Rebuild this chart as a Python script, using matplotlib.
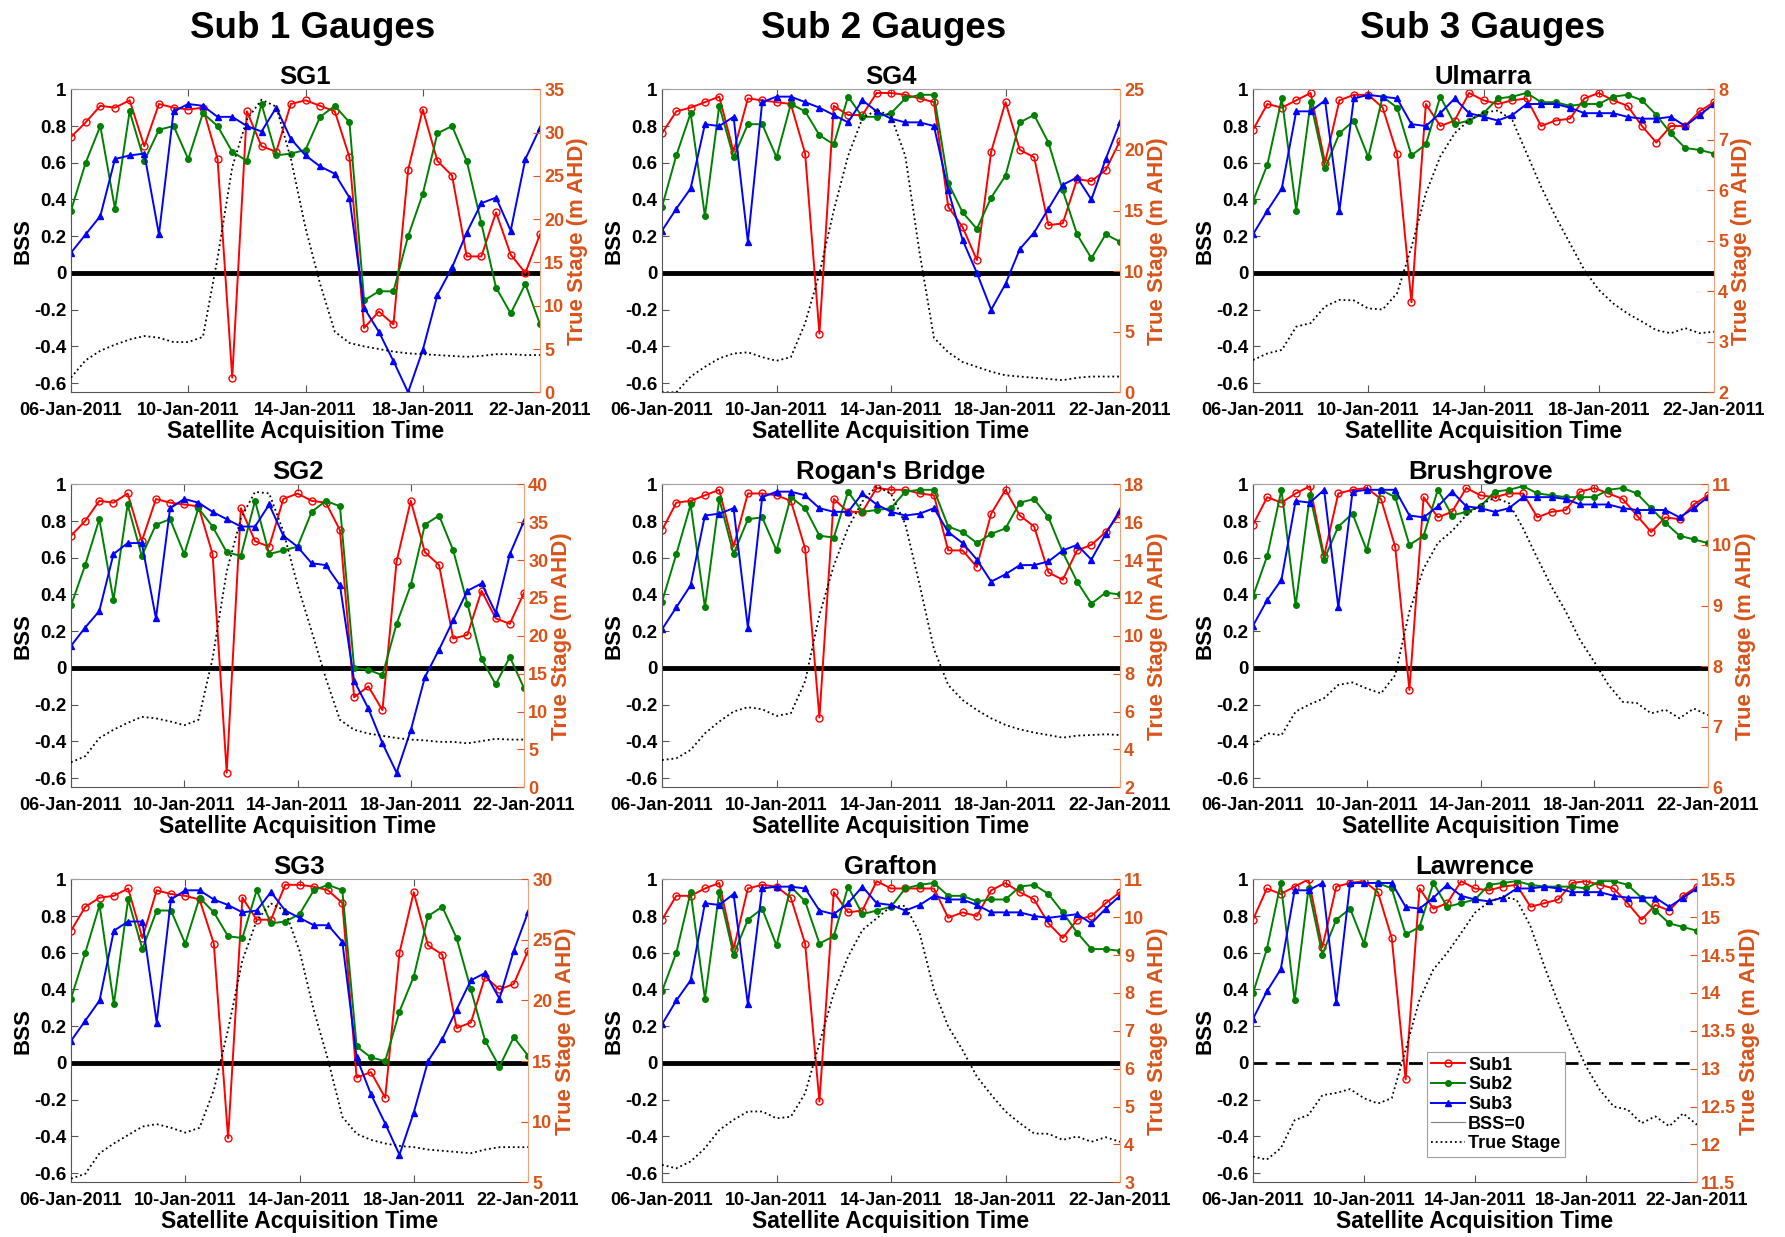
import numpy as np
import matplotlib
matplotlib.use('Agg')
import matplotlib.pyplot as plt
import matplotlib.dates as mdates
from matplotlib.lines import Line2D
from matplotlib.ticker import FuncFormatter

plt.rcParams['font.family'] = ['Liberation Sans', 'DejaVu Sans']
plt.rcParams['font.weight'] = 'bold'
plt.rcParams['axes.labelweight'] = 'bold'
plt.rcParams['axes.titleweight'] = 'bold'

# satellite acquisitions every 12 h, 06-Jan-2011 .. 22-Jan-2011
times = np.datetime64('2011-01-06T00:00') + np.arange(33) * np.timedelta64(12, 'h')

# ---- Sub 1 gauges ----
sg1_sub1 = [0.74, 0.82, 0.91, 0.90, 0.94, 0.69, 0.92, 0.90, 0.89, 0.90, 0.62, -0.57, 0.88, 0.69, 0.66, 0.92, 0.94,
            0.91, 0.88, 0.63, -0.30, -0.21, -0.28, 0.56, 0.89, 0.61, 0.53, 0.09, 0.09, 0.33, 0.10, 0.00, 0.21]
sg1_sub2 = [0.34, 0.60, 0.80, 0.35, 0.88, 0.61, 0.78, 0.80, 0.62, 0.87, 0.80, 0.66, 0.61, 0.92, 0.64, 0.65, 0.67,
            0.85, 0.91, 0.82, -0.15, -0.10, -0.10, 0.20, 0.43, 0.76, 0.80, 0.61, 0.27, -0.08, -0.22, -0.06, -0.28]
sg1_sub3 = [0.11, 0.21, 0.31, 0.62, 0.64, 0.65, 0.21, 0.88, 0.92, 0.91, 0.85, 0.85, 0.80, 0.77, 0.90, 0.73, 0.64,
            0.58, 0.54, 0.41, -0.19, -0.32, -0.48, -0.65, -0.42, -0.12, 0.03, 0.22, 0.38, 0.41, 0.23, 0.62, 0.79]
sg1_stage = [1.7, 3.7, 4.8, 5.5, 6.1, 6.5, 6.3, 5.8, 5.8, 6.4, 15.5, 26.0, 31.5, 33.8, 33.0, 27.0, 19.0,
             12.5, 7.0, 5.7, 5.3, 5.0, 4.7, 4.5, 4.4, 4.3, 4.2, 4.1, 4.2, 4.4, 4.4, 4.3, 4.3]

sg2_sub1 = [0.72, 0.80, 0.91, 0.90, 0.95, 0.69, 0.92, 0.90, 0.89, 0.88, 0.62, -0.57, 0.87, 0.69, 0.66, 0.92, 0.95,
            0.91, 0.90, 0.75, -0.16, -0.10, -0.23, 0.58, 0.91, 0.63, 0.56, 0.16, 0.18, 0.42, 0.27, 0.24, 0.41]
sg2_sub2 = [0.34, 0.56, 0.81, 0.37, 0.89, 0.61, 0.78, 0.81, 0.62, 0.87, 0.77, 0.63, 0.61, 0.91, 0.62, 0.64, 0.66,
            0.85, 0.91, 0.88, 0.00, -0.01, -0.04, 0.24, 0.45, 0.78, 0.83, 0.64, 0.35, 0.05, -0.09, 0.06, -0.11]
sg2_sub3 = [0.12, 0.22, 0.31, 0.62, 0.68, 0.68, 0.27, 0.87, 0.92, 0.90, 0.85, 0.81, 0.77, 0.77, 0.89, 0.72, 0.66,
            0.57, 0.56, 0.45, -0.07, -0.22, -0.41, -0.57, -0.34, -0.05, 0.10, 0.26, 0.42, 0.46, 0.30, 0.62, 0.80]
sg2_stage = [3.3, 4.1, 6.5, 7.6, 8.5, 9.3, 9.1, 8.7, 8.2, 8.9, 17.0, 28.5, 35.5, 39.0, 38.8, 33.8, 26.7,
             20.6, 14.4, 8.9, 7.6, 7.1, 6.8, 6.5, 6.3, 6.2, 6.0, 6.0, 5.8, 6.1, 6.4, 6.3, 6.3]

sg3_sub1 = [0.72, 0.85, 0.90, 0.91, 0.95, 0.68, 0.94, 0.92, 0.91, 0.89, 0.65, -0.41, 0.90, 0.78, 0.78, 0.97, 0.97,
            0.96, 0.94, 0.87, -0.08, -0.05, -0.19, 0.60, 0.93, 0.64, 0.59, 0.19, 0.22, 0.47, 0.40, 0.43, 0.61]
sg3_sub2 = [0.35, 0.60, 0.86, 0.32, 0.89, 0.62, 0.83, 0.83, 0.65, 0.90, 0.82, 0.69, 0.68, 0.94, 0.76, 0.77, 0.81,
            0.94, 0.97, 0.94, 0.09, 0.03, 0.01, 0.28, 0.47, 0.80, 0.85, 0.68, 0.40, 0.12, -0.02, 0.14, 0.04]
sg3_sub3 = [0.12, 0.23, 0.34, 0.72, 0.77, 0.77, 0.22, 0.89, 0.94, 0.94, 0.89, 0.86, 0.82, 0.83, 0.93, 0.83, 0.79,
            0.75, 0.75, 0.66, 0.03, -0.17, -0.33, -0.50, -0.27, 0.01, 0.13, 0.29, 0.45, 0.49, 0.35, 0.61, 0.82]
sg3_stage = [5.3, 5.7, 7.4, 8.2, 8.9, 9.6, 9.8, 9.5, 9.1, 9.5, 12.6, 17.6, 23.3, 26.6, 28.0, 27.4, 24.1,
             19.2, 15.1, 10.4, 9.0, 8.5, 8.2, 8.0, 7.9, 7.7, 7.6, 7.5, 7.4, 7.7, 7.9, 7.9, 7.9]

# ---- Sub 2 gauges ----
sg4_sub1 = [0.76, 0.88, 0.90, 0.93, 0.96, 0.66, 0.95, 0.94, 0.93, 0.92, 0.65, -0.33, 0.91, 0.86, 0.86, 0.98, 0.98,
            0.97, 0.95, 0.93, 0.36, 0.25, 0.07, 0.66, 0.93, 0.67, 0.63, 0.26, 0.27, 0.51, 0.50, 0.56, 0.72]
sg4_sub2 = [0.36, 0.64, 0.87, 0.31, 0.91, 0.63, 0.81, 0.81, 0.63, 0.92, 0.88, 0.75, 0.70, 0.96, 0.85, 0.85, 0.87,
            0.95, 0.97, 0.97, 0.49, 0.33, 0.24, 0.41, 0.53, 0.82, 0.86, 0.71, 0.45, 0.21, 0.08, 0.21, 0.17]
sg4_sub3 = [0.23, 0.35, 0.46, 0.81, 0.80, 0.85, 0.17, 0.93, 0.96, 0.96, 0.93, 0.90, 0.86, 0.82, 0.94, 0.88, 0.84,
            0.82, 0.82, 0.80, 0.45, 0.18, 0.00, -0.20, -0.06, 0.13, 0.22, 0.35, 0.48, 0.52, 0.40, 0.62, 0.82]
sg4_stage = [0.0, 0.0, 1.3, 2.1, 2.8, 3.2, 3.3, 2.9, 2.6, 2.9, 5.7, 9.8, 15.0, 19.5, 22.6, 23.3, 22.8,
             19.5, 11.5, 4.5, 3.3, 2.5, 2.1, 1.7, 1.4, 1.3, 1.2, 1.1, 1.0, 1.2, 1.3, 1.3, 1.3]

rogan_sub1 = [0.75, 0.90, 0.91, 0.94, 0.97, 0.66, 0.95, 0.95, 0.94, 0.91, 0.65, -0.27, 0.92, 0.85, 0.85, 0.98, 0.97,
              0.97, 0.95, 0.94, 0.64, 0.64, 0.55, 0.84, 0.97, 0.83, 0.77, 0.52, 0.48, 0.64, 0.67, 0.74, 0.84]
rogan_sub2 = [0.36, 0.62, 0.89, 0.33, 0.92, 0.62, 0.81, 0.82, 0.64, 0.93, 0.87, 0.72, 0.71, 0.96, 0.85, 0.86, 0.87,
              0.96, 0.97, 0.97, 0.77, 0.74, 0.68, 0.73, 0.76, 0.90, 0.92, 0.82, 0.63, 0.47, 0.35, 0.41, 0.40]
rogan_sub3 = [0.21, 0.33, 0.45, 0.83, 0.84, 0.87, 0.22, 0.93, 0.96, 0.96, 0.94, 0.87, 0.85, 0.85, 0.95, 0.89, 0.85,
              0.83, 0.84, 0.87, 0.74, 0.68, 0.59, 0.47, 0.51, 0.56, 0.56, 0.58, 0.64, 0.67, 0.59, 0.73, 0.86]
rogan_stage = [3.44, 3.53, 3.97, 4.85, 5.47, 6.00, 6.23, 6.12, 5.77, 5.91, 7.6, 11.1, 13.7, 15.7, 17.1, 17.9, 17.5,
               15.9, 12.7, 9.3, 7.4, 6.61, 6.08, 5.64, 5.29, 5.06, 4.89, 4.76, 4.62, 4.73, 4.76, 4.80, 4.76]

grafton_sub1 = [0.78, 0.91, 0.91, 0.95, 0.98, 0.62, 0.95, 0.97, 0.96, 0.90, 0.65, -0.21, 0.93, 0.82, 0.83, 0.99, 0.95,
                0.95, 0.95, 0.95, 0.79, 0.82, 0.80, 0.94, 0.98, 0.93, 0.89, 0.76, 0.68, 0.78, 0.80, 0.87, 0.93]
grafton_sub2 = [0.39, 0.60, 0.93, 0.35, 0.93, 0.59, 0.78, 0.84, 0.64, 0.96, 0.88, 0.65, 0.69, 0.96, 0.81, 0.83, 0.85,
                0.95, 0.97, 0.98, 0.91, 0.91, 0.88, 0.89, 0.89, 0.96, 0.97, 0.92, 0.82, 0.71, 0.62, 0.62, 0.61]
grafton_sub3 = [0.21, 0.34, 0.45, 0.87, 0.86, 0.92, 0.32, 0.95, 0.96, 0.96, 0.95, 0.83, 0.81, 0.87, 0.96, 0.87, 0.86,
                0.83, 0.86, 0.91, 0.89, 0.89, 0.86, 0.82, 0.82, 0.82, 0.80, 0.79, 0.80, 0.81, 0.76, 0.84, 0.91]
grafton_stage = [3.46, 3.37, 3.55, 3.90, 4.38, 4.65, 4.87, 4.87, 4.69, 4.73, 5.35, 6.67, 7.99, 8.96, 9.66, 9.97, 10.28,
                 10.30, 9.58, 8.08, 7.11, 6.49, 5.79, 5.31, 4.87, 4.56, 4.29, 4.28, 4.12, 4.21, 4.07, 4.19, 4.07]

# ---- Sub 3 gauges ----
ulmarra_sub1 = [0.78, 0.92, 0.90, 0.94, 0.98, 0.60, 0.94, 0.97, 0.97, 0.90, 0.65, -0.16, 0.92, 0.80, 0.83, 0.98, 0.94,
                0.92, 0.94, 0.95, 0.80, 0.83, 0.84, 0.95, 0.98, 0.94, 0.91, 0.80, 0.71, 0.80, 0.80, 0.88, 0.93]
ulmarra_sub2 = [0.39, 0.59, 0.95, 0.34, 0.93, 0.57, 0.76, 0.83, 0.63, 0.96, 0.90, 0.64, 0.70, 0.96, 0.81, 0.83, 0.87,
                0.95, 0.96, 0.98, 0.93, 0.93, 0.91, 0.92, 0.92, 0.96, 0.97, 0.94, 0.86, 0.76, 0.68, 0.67, 0.65]
ulmarra_sub3 = [0.21, 0.34, 0.46, 0.88, 0.88, 0.94, 0.34, 0.95, 0.97, 0.96, 0.95, 0.81, 0.80, 0.87, 0.95, 0.87, 0.85,
                0.83, 0.86, 0.92, 0.92, 0.92, 0.90, 0.87, 0.87, 0.87, 0.85, 0.84, 0.84, 0.85, 0.80, 0.86, 0.92]
ulmarra_stage = [2.64, 2.77, 2.84, 3.30, 3.37, 3.70, 3.83, 3.82, 3.66, 3.64, 3.96, 4.88, 5.94, 6.67, 7.13, 7.39, 7.54,
                 7.58, 7.39, 6.73, 6.07, 5.48, 4.95, 4.42, 4.03, 3.76, 3.56, 3.40, 3.23, 3.17, 3.27, 3.17, 3.20]

brush_sub1 = [0.78, 0.93, 0.90, 0.95, 0.99, 0.61, 0.95, 0.97, 0.98, 0.92, 0.66, -0.12, 0.93, 0.82, 0.85, 0.98, 0.94,
              0.93, 0.95, 0.95, 0.82, 0.85, 0.86, 0.96, 0.98, 0.95, 0.92, 0.83, 0.74, 0.82, 0.81, 0.89, 0.94]
brush_sub2 = [0.39, 0.61, 0.97, 0.34, 0.94, 0.59, 0.77, 0.84, 0.64, 0.97, 0.93, 0.67, 0.72, 0.97, 0.83, 0.85, 0.88,
              0.96, 0.97, 0.99, 0.95, 0.94, 0.93, 0.93, 0.93, 0.97, 0.98, 0.95, 0.87, 0.79, 0.72, 0.70, 0.68]
brush_sub3 = [0.23, 0.37, 0.48, 0.91, 0.90, 0.97, 0.33, 0.96, 0.97, 0.97, 0.97, 0.83, 0.82, 0.88, 0.96, 0.88, 0.87,
              0.85, 0.87, 0.93, 0.93, 0.93, 0.92, 0.89, 0.89, 0.89, 0.87, 0.86, 0.86, 0.86, 0.82, 0.87, 0.93]
brush_stage = [6.70, 6.89, 6.86, 7.25, 7.37, 7.47, 7.69, 7.73, 7.63, 7.55, 7.85, 8.90, 9.61, 10.03, 10.23, 10.49, 10.66,
               10.78, 10.69, 10.27, 9.78, 9.31, 8.90, 8.43, 8.07, 7.69, 7.41, 7.39, 7.22, 7.28, 7.14, 7.30, 7.19]

lawrence_sub1 = [0.78, 0.95, 0.92, 0.96, 1.00, 0.63, 0.96, 0.98, 0.99, 0.93, 0.68, -0.09, 0.95, 0.84, 0.87, 0.99, 0.95,
                 0.94, 0.96, 0.97, 0.85, 0.87, 0.89, 0.98, 0.99, 0.97, 0.95, 0.87, 0.78, 0.86, 0.83, 0.91, 0.96]
lawrence_sub2 = [0.38, 0.62, 0.98, 0.34, 0.95, 0.59, 0.78, 0.84, 0.65, 0.98, 0.95, 0.70, 0.74, 0.98, 0.85, 0.87, 0.89,
                 0.97, 0.98, 0.99, 0.97, 0.96, 0.96, 0.96, 0.95, 0.99, 0.99, 0.97, 0.90, 0.83, 0.76, 0.74, 0.72]
lawrence_sub3 = [0.24, 0.39, 0.51, 0.94, 0.94, 0.98, 0.33, 0.98, 0.98, 0.98, 0.98, 0.85, 0.84, 0.90, 0.97, 0.91, 0.89,
                 0.88, 0.90, 0.95, 0.95, 0.96, 0.95, 0.93, 0.93, 0.93, 0.91, 0.90, 0.90, 0.90, 0.85, 0.90, 0.95]
lawrence_stage = [11.84, 11.80, 11.95, 12.32, 12.39, 12.65, 12.68, 12.73, 12.61, 12.54, 12.61, 13.25, 13.91, 14.31,
                  14.53, 14.79, 15.06, 15.20, 15.27, 15.23, 14.88, 14.35, 13.87, 13.43, 13.03, 12.72, 12.50, 12.46,
                  12.28, 12.37, 12.24, 12.41, 12.26]

column_titles = ['Sub 1 Gauges', 'Sub 2 Gauges', 'Sub 3 Gauges']
legend_labels = ['Sub1', 'Sub2', 'Sub3', 'BSS=0', 'True Stage']

# (title, sub1, sub2, sub3, stage, (stage min, max, step)) in row-major order
panels = [
    ('SG1', sg1_sub1, sg1_sub2, sg1_sub3, sg1_stage, (0, 35, 5)),
    ('SG4', sg4_sub1, sg4_sub2, sg4_sub3, sg4_stage, (0, 25, 5)),
    ('Ulmarra', ulmarra_sub1, ulmarra_sub2, ulmarra_sub3, ulmarra_stage, (2, 8, 1)),
    ('SG2', sg2_sub1, sg2_sub2, sg2_sub3, sg2_stage, (0, 40, 5)),
    ("Rogan's Bridge", rogan_sub1, rogan_sub2, rogan_sub3, rogan_stage, (2, 18, 2)),
    ('Brushgrove', brush_sub1, brush_sub2, brush_sub3, brush_stage, (6, 11, 1)),
    ('SG3', sg3_sub1, sg3_sub2, sg3_sub3, sg3_stage, (5, 30, 5)),
    ('Grafton', grafton_sub1, grafton_sub2, grafton_sub3, grafton_stage, (3, 11, 1)),
    ('Lawrence', lawrence_sub1, lawrence_sub2, lawrence_sub3, lawrence_stage, (11.5, 15.5, 0.5)),
]

W, H = 1785, 1237
# axes boxes in pixels: (left, right) per row/column, (top, bottom) per row
col_lr = [[(71, 540), (662, 1120), (1253, 1714)],
          [(71, 524), (662, 1120), (1253, 1708)],
          [(71, 528), (662, 1120), (1253, 1697)]]
row_tb = [(89.3, 392.3), (484.3, 787.3), (879.3, 1182.3)]

RED, GREEN, BLUE = '#ff0000', '#008000', '#0000ff'
ORANGE = '#d95319'
fmt = FuncFormatter(lambda v, p: f'{round(v, 2):g}')

fig = plt.figure(figsize=(W / 100, H / 100), dpi=100)

for k, (name, s1, s2, s3, stage, (lo, hi, step)) in enumerate(panels):
    r, c = divmod(k, 3)
    l, rr = col_lr[r][c]
    t, b = row_tb[r]
    ax = fig.add_axes([l / W, 1 - b / H, (rr - l) / W, (b - t) / H])
    ax2 = ax.twinx()

    ax2.plot(times, stage, ':', color='k', lw=1.3)
    if name == 'Lawrence':
        ax.axhline(0, color='k', lw=2, ls=(0, (5, 3)))
    else:
        ax.axhline(0, color='k', lw=3.5)
    ax.plot(times, s1, '-o', color=RED, lw=1.4, ms=5, mfc='none', mew=1)
    ax.plot(times, s2, '-o', color=GREEN, lw=1.4, ms=4, mew=1)
    ax.plot(times, s3, '-^', color=BLUE, lw=1.4, ms=5, mew=1)

    ax.set_xlim(times[0], times[-1])
    ax.set_ylim(-0.65, 1)
    ax.set_yticks(np.round(np.arange(-0.6, 1.01, 0.2), 1))
    ax.yaxis.set_major_formatter(fmt)
    ax.xaxis.set_major_locator(mdates.DayLocator(bymonthday=[6, 10, 14, 18, 22]))
    ax.xaxis.set_major_formatter(mdates.DateFormatter('%d-%b-%Y'))
    ax.tick_params(direction='in', top=True, length=5, labelsize=13.5, color='#555555')
    ax.tick_params(axis='x', labelsize=13, pad=7)
    ax.set_ylabel('BSS', fontsize=16, labelpad=0)
    ax.set_xlabel('Satellite Acquisition Time', fontsize=16.5, labelpad=1)
    ax.set_title(name, fontsize=18.5, pad=4)
    for sp in ['left', 'bottom', 'top']:
        ax.spines[sp].set_color('#555555')
        ax.spines[sp].set_linewidth(0.8)
    ax.spines['top'].set_color('#a0a0a0')
    ax.spines['right'].set_visible(False)

    ax2.set_ylim(lo, hi)
    ax2.set_yticks(np.arange(lo, hi + step / 2, step))
    ax2.yaxis.set_major_formatter(fmt)
    ax2.tick_params(direction='in', length=5, labelsize=13, colors=ORANGE, pad=3)
    ax2.set_ylabel('True Stage (m AHD)', color=ORANGE, fontsize=16, labelpad=2)
    for sp in ['left', 'bottom', 'top']:
        ax2.spines[sp].set_visible(False)
    ax2.spines['right'].set_color('#eba27f')

    if name == 'Lawrence':
        handles = [
            Line2D([], [], color=RED, marker='o', ms=5, mfc='none', lw=1.4),
            Line2D([], [], color=GREEN, marker='o', ms=4, lw=1.4),
            Line2D([], [], color=BLUE, marker='^', ms=5, lw=1.4),
            Line2D([], [], color='#7f7f7f', lw=0.8),
            Line2D([], [], color='k', ls=':', lw=1.3),
        ]
        leg = ax2.legend(handles, legend_labels, loc='lower left', bbox_to_anchor=(0.391, 0.0835),
                         fontsize=13, frameon=True, fancybox=False, framealpha=1,
                         edgecolor='#a0a0a0', handlelength=1.9, handletextpad=0.15,
                         borderpad=0.25, labelspacing=0.15, borderaxespad=0)
        leg.get_frame().set_linewidth(0.8)

header_x = [313, 884, 1483]
for x, txt in zip(header_x, column_titles):
    fig.text(x / W, 1 - 28 / H, txt, ha='center', va='center', fontsize=26.5, weight='bold')

fig.savefig('out.png', dpi=100)
